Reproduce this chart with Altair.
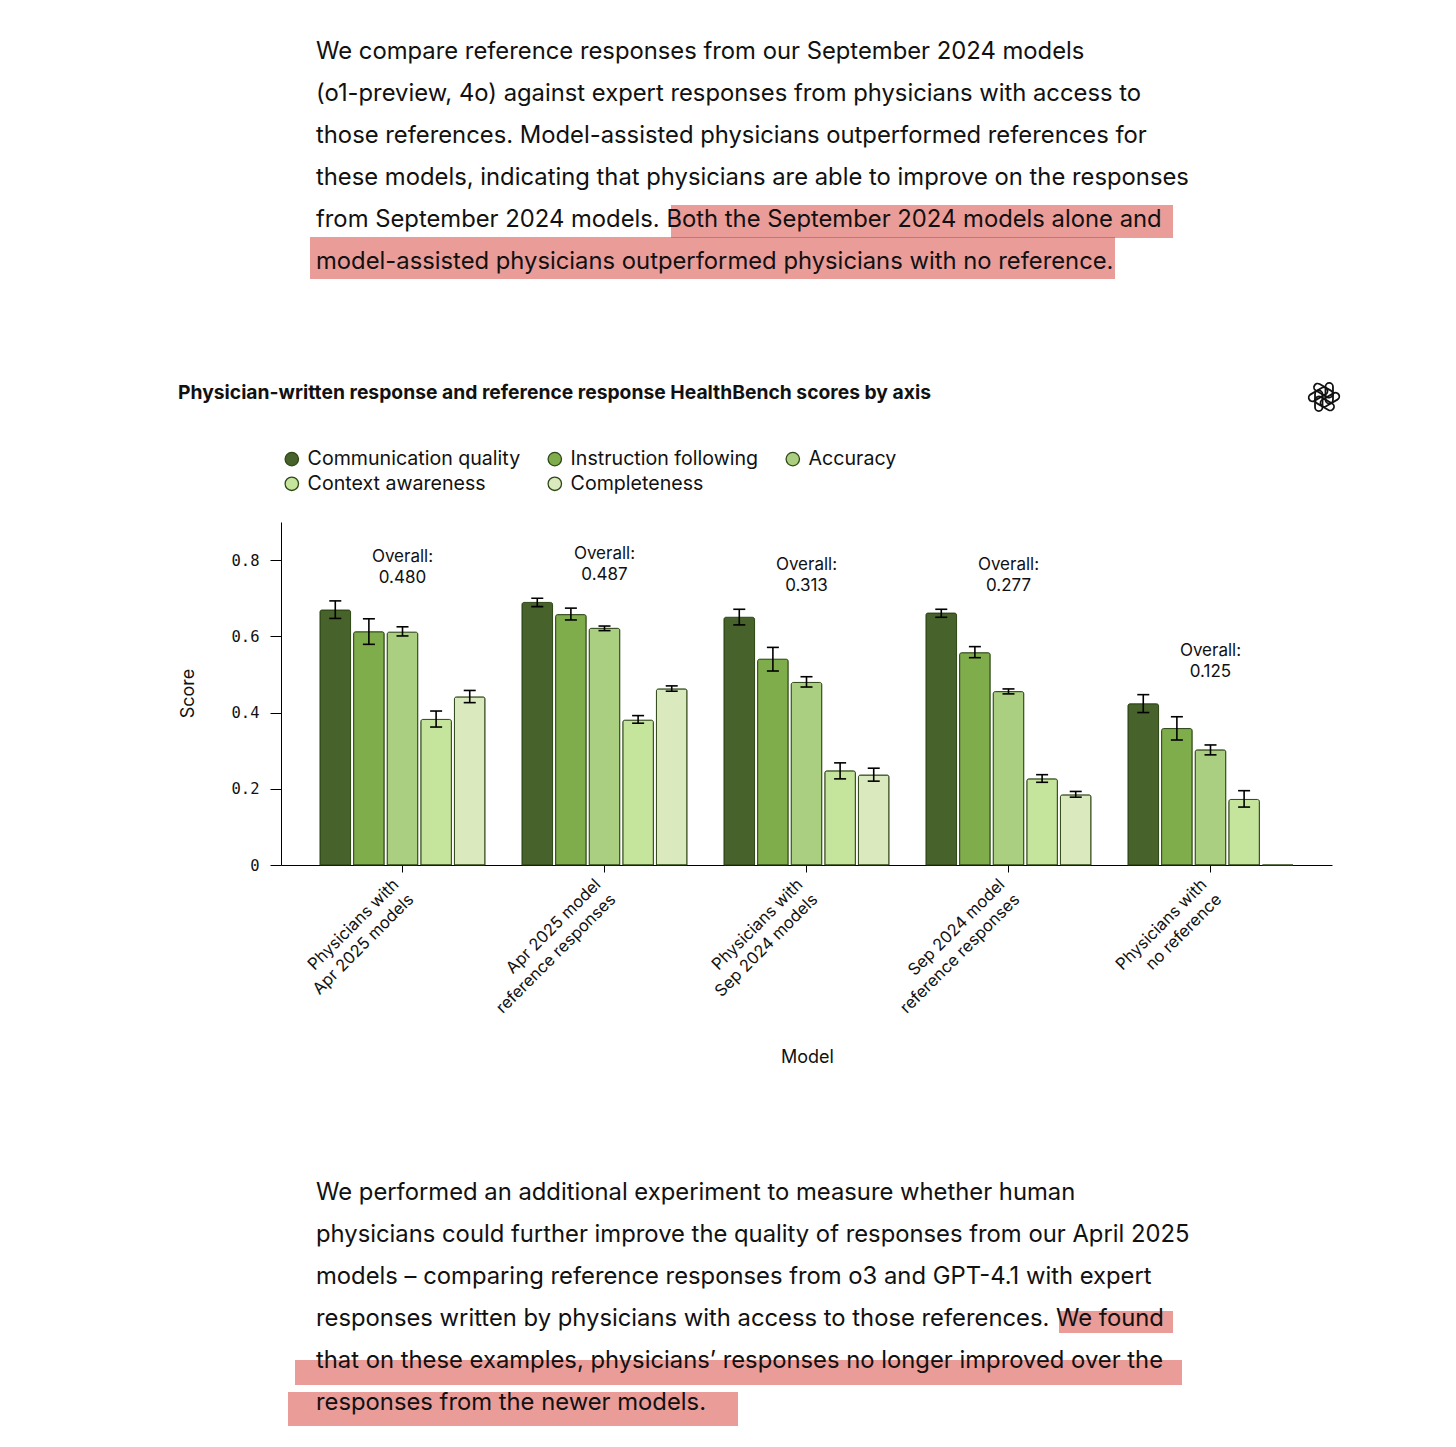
import altair as alt
import pandas as pd

# ---------------- data ----------------
groups = [
    "Physicians with\nApr 2025 models",
    "Apr 2025 model\nreference responses",
    "Physicians with\nSep 2024 models",
    "Sep 2024 model\nreference responses",
    "Physicians with\nno reference",
]
axis_names = [
    "Communication quality",
    "Instruction following",
    "Accuracy",
    "Context awareness",
    "Completeness",
]
colors = ["#47622a", "#7fad4b", "#abcf80", "#c6e59c", "#dbe9bf"]

comm = [0.669, 0.689, 0.650, 0.661, 0.423]
comm_lo = [0.647, 0.678, 0.630, 0.650, 0.400]
comm_hi = [0.693, 0.700, 0.671, 0.671, 0.447]

instr = [0.612, 0.657, 0.540, 0.557, 0.358]
instr_lo = [0.579, 0.643, 0.509, 0.544, 0.328]
instr_hi = [0.646, 0.674, 0.571, 0.573, 0.389]

acc = [0.611, 0.621, 0.479, 0.455, 0.302]
acc_lo = [0.601, 0.615, 0.467, 0.449, 0.289]
acc_hi = [0.625, 0.627, 0.494, 0.462, 0.315]

ctx = [0.382, 0.380, 0.247, 0.226, 0.172]
ctx_lo = [0.362, 0.372, 0.226, 0.217, 0.152]
ctx_hi = [0.404, 0.392, 0.268, 0.237, 0.195]

compl = [0.441, 0.462, 0.236, 0.184, 0.0]
compl_lo = [0.426, 0.456, 0.220, 0.178, None]
compl_hi = [0.458, 0.470, 0.254, 0.193, None]

overall = [0.480, 0.487, 0.313, 0.277, 0.125]

chart_title = "Physician-written response and reference response HealthBench scores by axis"

top_lines = [
    "We compare reference responses from our September 2024 models",
    "(o1-preview, 4o) against expert responses from physicians with access to",
    "those references. Model-assisted physicians outperformed references for",
    "these models, indicating that physicians are able to improve on the responses",
    "from September 2024 models. Both the September 2024 models alone and",
    "model-assisted physicians outperformed physicians with no reference.",
]
bottom_lines = [
    "We performed an additional experiment to measure whether human",
    "physicians could further improve the quality of responses from our April 2025",
    "models \u2013 comparing reference responses from o3 and GPT-4.1 with expert",
    "responses written by physicians with access to those references. We found",
    "that on these examples, physicians\u2019 responses no longer improved over the",
    "responses from the newer models.",
]

# ---------------- tables ----------------
series = [
    (axis_names[0], comm, comm_lo, comm_hi),
    (axis_names[1], instr, instr_lo, instr_hi),
    (axis_names[2], acc, acc_lo, acc_hi),
    (axis_names[3], ctx, ctx_lo, ctx_hi),
    (axis_names[4], compl, compl_lo, compl_hi),
]
rows = []
for name, vals, los, his in series:
    for g, v, lo, hi in zip(groups, vals, los, his):
        rows.append({"group": g, "axis": name, "score": v, "lo": lo, "hi": hi})
df = pd.DataFrame(rows)

tops = []
for gi in range(len(groups)):
    cands = [s[3][gi] for s in series if s[3][gi] is not None] + [s[1][gi] for s in series]
    tops.append(max(cands))
ov = pd.DataFrame({
    "group": groups,
    "top": tops,
    "label": ["Overall:\n" + f"{v:.3f}" for v in overall],
})

FONT = "Inter"
INK = "#111111"
W, H = 1051, 343

x_enc = alt.X(
    "group:N",
    sort=groups,
    title="Model",
    scale=alt.Scale(paddingInner=0.183, paddingOuter=0.193),
    axis=alt.Axis(
        labelAngle=-45, labelAlign="right", labelBaseline="top",
        labelFont=FONT, labelFontSize=16.5, labelColor=INK, labelLineHeight=21,
        labelExpr="split(datum.label, '\\n')", labelLimit=400, labelOverlap=False,
        labelPadding=4, labelOffset=-12, tickSize=7, tickColor="black", domainColor="black",
        titleFont=FONT, titleFontSize=18, titleFontWeight="normal", titleColor=INK,
        titleX=526, titleY=192, titleAlign="center", titleBaseline="middle",
    ),
)
y_scale = alt.Scale(domain=[0, 0.9], nice=False)
y_axis = alt.Axis(
    values=[0, 0.2, 0.4, 0.6, 0.8], format="~g", grid=False,
    labelFont="DejaVu Sans Mono", labelFontSize=15.5, labelColor=INK,
    tickSize=11, labelPadding=11, tickColor="black", domainColor="black",
    titleFont=FONT, titleFontSize=18, titleFontWeight="normal", titleColor=INK,
    titleX=-93, titleY=171, titleAngle=-90, titleAlign="center", titleBaseline="middle",
)
xoff = alt.XOffset("axis:N", sort=axis_names, scale=alt.Scale(paddingInner=0.09, paddingOuter=0))

one = pd.DataFrame({"k": [0]})
HL = "#d63a33"

def hl(x1, x2, y1, y2):
    return alt.Chart(one).mark_rect(color=HL, opacity=0.5).encode(
        x=alt.value(x1), x2=alt.value(x2), y=alt.value(y1), y2=alt.value(y2))

# highlight boxes, in pixels relative to the plot origin
highlights = [
    hl(390, 892, -317, -284),
    hl(29, 834, -285, -243),
    hl(778, 892, 789, 811),
    hl(14, 901, 838, 863),
    hl(7, 457, 870, 904),
]

top_text = alt.Chart(one).mark_text(
    text="\n".join(top_lines), lineBreak="\n", align="left", baseline="middle",
    font=FONT, fontSize=23.8, lineHeight=42, color=INK,
).encode(x=alt.value(35), y=alt.value(-470))

bottom_text = alt.Chart(one).mark_text(
    text="\n".join(bottom_lines), lineBreak="\n", align="left", baseline="middle",
    font=FONT, fontSize=23.8, lineHeight=42, color=INK,
).encode(x=alt.value(35), y=alt.value(671))

title_text = alt.Chart(one).mark_text(
    text=chart_title, align="left", baseline="middle",
    font=FONT, fontSize=19.3, fontWeight="bold", color=INK,
).encode(x=alt.value(-103), y=alt.value(-129))

logo_path = "M0.08,-0.55 A0.2,0.2 0 0 1 0.48,-0.55 L0.48,0.15 A0.2,0.2 0 0 1 0.08,0.15 Z"
logo = alt.Chart(pd.DataFrame({"a": [0, 60, 120, 180, 240, 300]})).mark_point(
    shape=logo_path, size=1400, filled=False, color=INK, strokeWidth=1.8, opacity=1,
).encode(x=alt.value(1043), y=alt.value(-125), angle=alt.Angle("a:Q", scale=None))

bars = alt.Chart(df).mark_bar(
    stroke="#2e4716", strokeWidth=1, cornerRadiusTopLeft=2, cornerRadiusTopRight=2,
).encode(
    x=x_enc,
    xOffset=xoff,
    y=alt.Y("score:Q", scale=y_scale, axis=y_axis, title="Score"),
    color=alt.Color(
        "axis:N",
        scale=alt.Scale(domain=axis_names, range=colors),
        legend=alt.Legend(
            orient="none", legendX=1, legendY=-73, columns=3, direction="horizontal",
            title=None, symbolType="circle", symbolSize=180, symbolStrokeColor="#2e4716",
            symbolStrokeWidth=1.3, symbolOpacity=1,
            labelFont=FONT, labelFontSize=19.6, labelColor=INK, labelLimit=400,
            columnPadding=24, rowPadding=4, labelOffset=6, padding=0,
        ),
    ),
)

err_base = alt.Chart(df).transform_filter("isValid(datum.lo)")
err_line = err_base.mark_bar(size=1.6, color="black").encode(
    x=x_enc, xOffset=xoff,
    y=alt.Y("lo:Q", scale=y_scale, title="Score"), y2="hi:Q",
)
cap_lo = err_base.mark_tick(size=12, thickness=1.6, color="black", opacity=1).encode(
    x=x_enc, xOffset=xoff, y=alt.Y("lo:Q", scale=y_scale, title="Score"),
)
cap_hi = err_base.mark_tick(size=12, thickness=1.6, color="black", opacity=1).encode(
    x=x_enc, xOffset=xoff, y=alt.Y("hi:Q", scale=y_scale, title="Score"),
)

overall_text = alt.Chart(ov).mark_text(
    lineBreak="\n", lineHeight=21, baseline="middle", align="center",
    font=FONT, fontSize=17, color=INK, dy=-44,
).encode(
    x=x_enc, y=alt.Y("top:Q", scale=y_scale, title="Score"), text="label:N",
)

chart = alt.layer(
    *highlights, top_text, bottom_text, title_text, logo,
    bars, err_line, cap_lo, cap_hi, overall_text,
).properties(
    width=W, height=H,
    autosize=alt.AutoSizeParams(type="none"),
    padding={"left": 273, "top": 514, "right": 116, "bottom": 565},
    background="white",
).configure_view(stroke=None)

chart.save("out.html", embed_options={"renderer": "svg", "actions": False})
